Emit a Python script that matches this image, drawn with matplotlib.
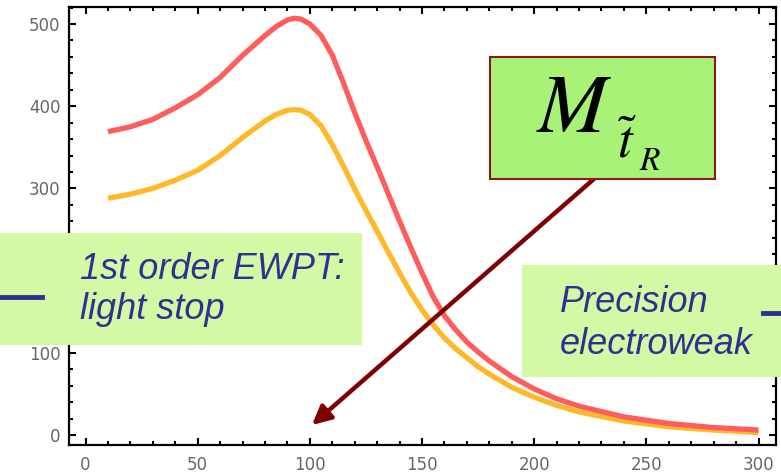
import numpy as np
import matplotlib
matplotlib.use("Agg")
from matplotlib import pyplot as plt
from matplotlib.patches import Rectangle
from matplotlib.ticker import MultipleLocator

## data
x_vals = [10, 20, 30, 40, 50, 60, 70, 75, 80, 85, 90, 93, 96, 100, 105, 110, 115,
          120, 125, 130, 135, 140, 145, 150, 155, 160, 165, 170, 175, 180, 190,
          200, 210, 220, 240, 260, 280, 300]
red_vals = [369, 375, 384, 398, 414, 435, 462, 474, 486, 497, 505, 507, 506, 500,
            486, 462, 428, 392, 358, 326, 293, 260, 228, 197, 168, 145, 128, 113,
            101, 90, 71, 56, 44, 35, 22, 14, 9, 6]
yellow_vals = [288, 293, 300, 310, 322, 340, 362, 372, 382, 390, 395, 396, 395,
               390, 376, 353, 327, 299, 273, 248, 222, 197, 173, 152, 134, 118,
               105, 94, 83, 74, 58, 46, 36, 28, 17, 10, 6, 3]

x_ticks = [0, 50, 100, 150, 200, 250, 300]
y_ticks = [0, 100, 200, 300, 400, 500]

W, H = 781, 475

def fx(px):
    return px / W

def fy(py):
    return 1 - py / H

plt.rcParams['mathtext.fontset'] = 'stix'

fig = plt.figure(figsize=(W / 100, H / 100), dpi=100)
fig.patch.set_facecolor('white')
ax = fig.add_axes([fx(69), fy(445), fx(776) - fx(69), fy(7) - fy(445)])

ax.plot(x_vals, red_vals, color='#ff5c5c', lw=3.8, solid_capstyle='butt', zorder=3)
ax.plot(x_vals, yellow_vals, color='#ffb928', lw=3.8, solid_capstyle='butt', zorder=2)

ax.set_xlim(-7.4, 307.8)
ax.set_ylim(-12.2, 520.7)
ax.set_xticks(x_ticks)
ax.set_yticks(y_ticks)
ax.xaxis.set_minor_locator(MultipleLocator(10))
ax.yaxis.set_minor_locator(MultipleLocator(20))
ax.tick_params(which='both', direction='in', top=True, right=True, width=1.5,
               labelcolor='#666666', labelsize=12)
ax.tick_params(which='major', length=5)
ax.tick_params(which='minor', length=3)
ax.tick_params(axis='x', pad=8)
ax.tick_params(axis='y', pad=6)
for sp in ax.spines.values():
    sp.set_linewidth(1.6)

## M_tR box and arrow
fig.add_artist(Rectangle((fx(490), fy(179)), fx(715) - fx(490), fy(57) - fy(179),
                         transform=fig.transFigure, facecolor='#a8f278',
                         edgecolor='#8b1a1a', lw=1.5, zorder=5))
fig.text(fx(536), fy(132), r'$M$', fontsize=60, color='black', zorder=6)
fig.text(fx(617), fy(158), r'$\tilde{t}$', fontsize=38, color='black', zorder=6)
fig.text(fx(639), fy(170), r'$R$', fontsize=24, color='black', zorder=6)

ax.annotate('', xy=(312, H - 425), xycoords='figure pixels',
            xytext=(595, H - 178), textcoords='figure pixels',
            arrowprops=dict(arrowstyle='-|>', color='#7f0000', lw=3.2,
                            mutation_scale=28, shrinkA=0, shrinkB=0),
            zorder=7)

## left label box
blue = '#303090'
fig.add_artist(Rectangle((0, fy(345)), fx(362), fy(233) - fy(345),
                         transform=fig.transFigure, facecolor='#d4f9a4',
                         edgecolor='none', zorder=5))
fig.add_artist(plt.Line2D([0, fx(42)], [fy(297), fy(297)], transform=fig.transFigure,
                          color=blue, lw=3.5, zorder=6))
fig.text(fx(80), fy(279), '1st order EWPT:', fontsize=26, style='italic',
         family='Liberation Sans', color=blue, zorder=6)
fig.text(fx(80), fy(319), 'light stop', fontsize=26, style='italic',
         family='Liberation Sans', color=blue, zorder=6)

## right label box
fig.add_artist(Rectangle((fx(522), fy(377)), fx(781) - fx(522), fy(265) - fy(377),
                         transform=fig.transFigure, facecolor='#d4f9a4',
                         edgecolor='none', zorder=5))
fig.add_artist(plt.Line2D([fx(763), 1], [fy(313), fy(313)], transform=fig.transFigure,
                          color=blue, lw=3.5, zorder=6))
fig.text(fx(560), fy(312), 'Precision', fontsize=26, style='italic',
         family='Liberation Sans', color=blue, zorder=6)
fig.text(fx(560), fy(354), 'electroweak', fontsize=26, style='italic',
         family='Liberation Sans', color=blue, zorder=6)

plt.savefig('out.png', dpi=100)
